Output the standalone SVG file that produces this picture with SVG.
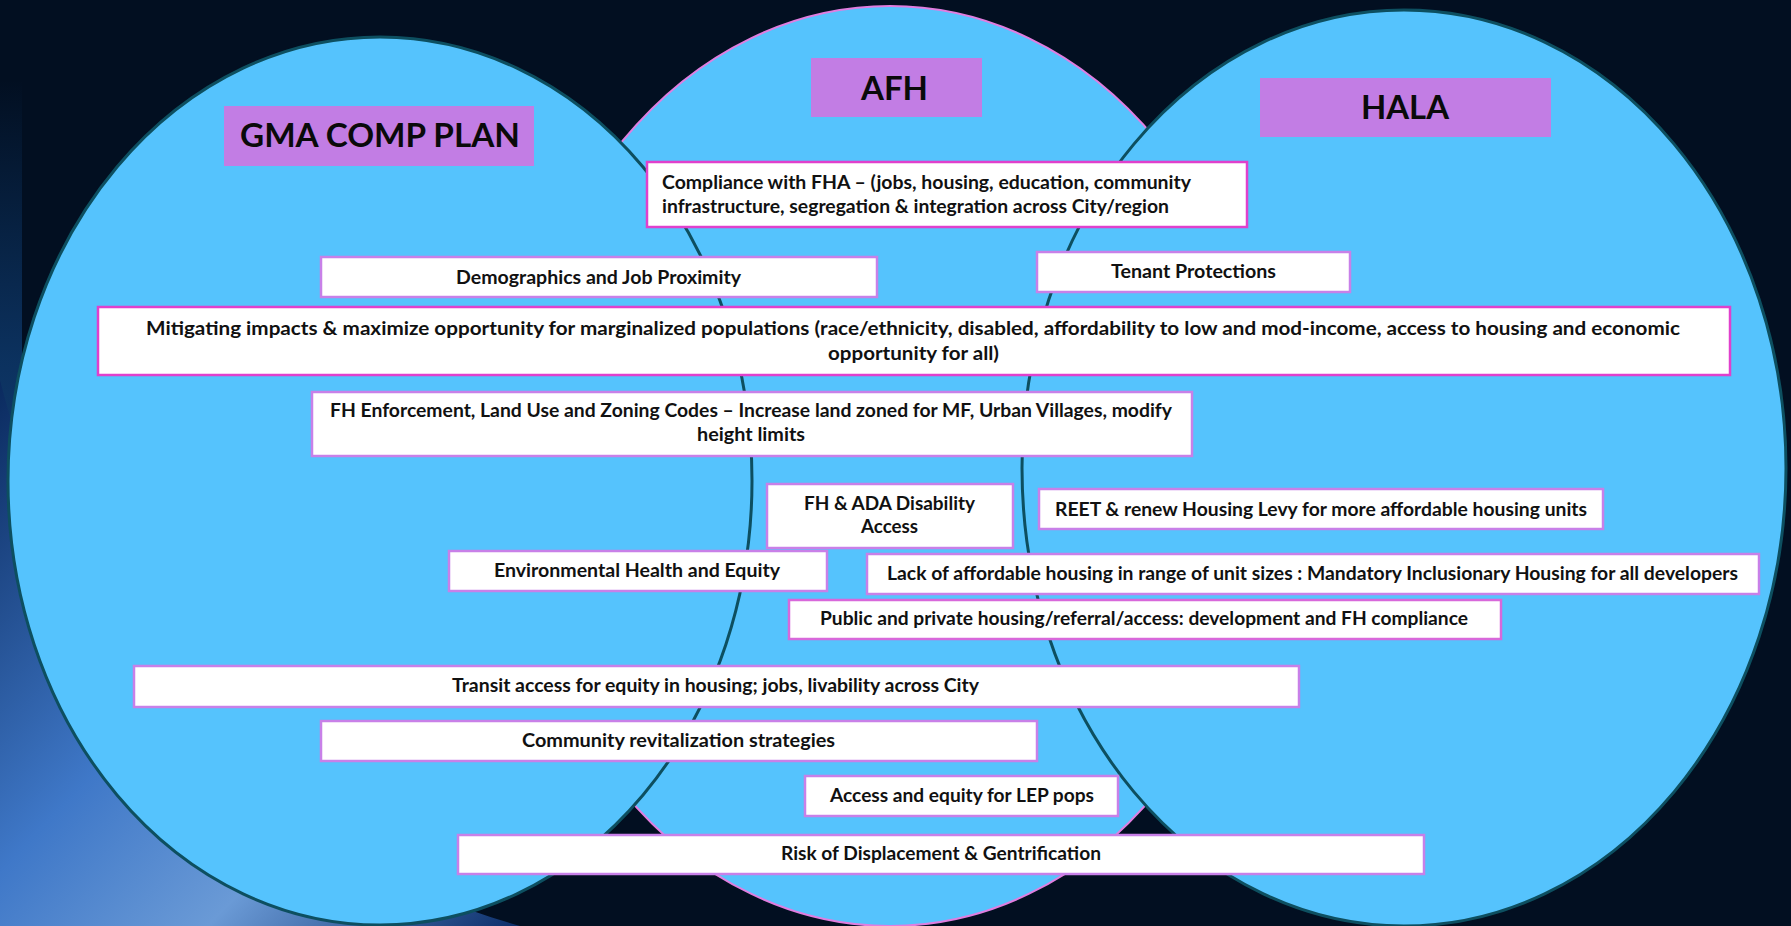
<svg xmlns="http://www.w3.org/2000/svg" width="1791" height="926" viewBox="0 0 1791 926">
<defs>
<style>
.ell{fill:#55C3FD;stroke:#0D4F60;stroke-width:3}
.ellp{fill:#55C3FD;stroke:#E07EE0;stroke-width:2}
.ttl{fill:#C27DE4}
.tt{font-family:Lato,"Liberation Sans",sans-serif;font-weight:700;font-size:32px;fill:#0A0A0A}
.bx{fill:#FFFFFF;stroke:#C880E8;stroke-width:2.5}
.bxm{fill:#FFFFFF;stroke:#E040CC;stroke-width:2.5}
.t{font-family:Lato,"Liberation Sans",sans-serif;font-weight:700;font-size:19.5px;fill:#111111}
</style>
<linearGradient id="sw" x1="0" y1="0" x2="1" y2="1">
<stop offset="0" stop-color="#0A2A5E"/>
<stop offset="0.45" stop-color="#3F78C8"/>
<stop offset="0.7" stop-color="#6A9AD6"/>
<stop offset="1" stop-color="#0C2E6A"/>
</linearGradient>
<linearGradient id="edge" x1="0" y1="0" x2="0" y2="1">
<stop offset="0" stop-color="#0E3A6E" stop-opacity="0"/>
<stop offset="0.5" stop-color="#0E3A6E" stop-opacity="0.8"/>
<stop offset="1" stop-color="#1A4A8A"/>
</linearGradient>
</defs>
<rect id="background" x="0" y="0" width="1791" height="926" fill="#020F21"/>
<rect x="0" y="80" width="22" height="560" fill="url(#edge)"/>
<path d="M0,380 C60,620 220,840 520,926 L0,926 Z" fill="url(#sw)"/>

<g id="afh">
<ellipse class="ellp" cx="890" cy="466" rx="378" ry="460"/>
</g>
<g id="gma">
<ellipse class="ell" cx="380" cy="481" rx="372" ry="444"/>
</g>
<g id="hala">
<ellipse class="ell" cx="1404" cy="468" rx="382" ry="458"/>
</g>

<g id="title-gma">
<rect class="ttl" x="224" y="106" width="310" height="60"/>
<text class="tt" x="240" y="147" textLength="280" lengthAdjust="spacingAndGlyphs">GMA COMP PLAN</text>
</g>
<g id="title-afh">
<rect class="ttl" x="811" y="58" width="171" height="59"/>
<text class="tt" x="861" y="100" textLength="67" lengthAdjust="spacingAndGlyphs">AFH</text>
</g>
<g id="title-hala">
<rect class="ttl" x="1260" y="78" width="291" height="59"/>
<text class="tt" x="1361" y="119" textLength="88" lengthAdjust="spacingAndGlyphs">HALA</text>
</g>

<g id="connectors"></g>

<g id="n-compliance">
<rect class="bxm" x="647" y="162" width="600" height="65"/>
<text class="t" x="662" y="189" textLength="529" lengthAdjust="spacingAndGlyphs">Compliance with FHA – (jobs, housing, education, community</text>
<text class="t" x="662" y="213" textLength="507" lengthAdjust="spacingAndGlyphs">infrastructure, segregation &amp; integration across City/region</text>
</g>
<g id="n-demographics">
<rect class="bx" x="321" y="257" width="556" height="40"/>
<text class="t" x="456" y="284" textLength="285" lengthAdjust="spacingAndGlyphs">Demographics and Job Proximity</text>
</g>
<g id="n-tenant">
<rect class="bx" x="1037" y="252" width="313" height="40"/>
<text class="t" x="1111" y="278" textLength="165" lengthAdjust="spacingAndGlyphs">Tenant Protections</text>
</g>
<g id="n-mitigating">
<rect class="bxm" x="98" y="307" width="1632" height="68"/>
<text class="t" x="146" y="335" textLength="1534" lengthAdjust="spacingAndGlyphs">Mitigating impacts &amp; maximize opportunity for marginalized populations (race/ethnicity, disabled,  affordability to low and mod-income,  access to housing and economic</text>
<text class="t" x="828" y="360" textLength="171" lengthAdjust="spacingAndGlyphs">opportunity for all)</text>
</g>
<g id="n-fh-enforcement">
<rect class="bx" x="312" y="392" width="880" height="64"/>
<text class="t" x="330" y="417" textLength="842" lengthAdjust="spacingAndGlyphs">FH Enforcement, Land Use and Zoning Codes – Increase land zoned for MF, Urban Villages, modify</text>
<text class="t" x="697" y="441" textLength="108" lengthAdjust="spacingAndGlyphs">height limits</text>
</g>
<g id="n-ada">
<rect class="bx" x="767" y="484" width="246" height="64"/>
<text class="t" x="804" y="510" textLength="171" lengthAdjust="spacingAndGlyphs">FH &amp; ADA Disability</text>
<text class="t" x="861" y="533" textLength="57" lengthAdjust="spacingAndGlyphs">Access</text>
</g>
<g id="n-reet">
<rect class="bx" x="1039" y="489" width="564" height="40"/>
<text class="t" x="1055" y="516" textLength="532" lengthAdjust="spacingAndGlyphs">REET &amp; renew Housing Levy for more affordable housing units</text>
</g>
<g id="n-environmental">
<rect class="bx" x="449" y="551" width="378" height="40"/>
<text class="t" x="494" y="577" textLength="286" lengthAdjust="spacingAndGlyphs">Environmental Health and Equity</text>
</g>
<g id="n-lack">
<rect class="bx" x="867" y="554" width="892" height="40"/>
<text class="t" x="887" y="580" textLength="851" lengthAdjust="spacingAndGlyphs">Lack of affordable housing in range of unit sizes : Mandatory Inclusionary Housing for all developers</text>
</g>
<g id="n-public">
<rect class="bx" x="789" y="600" width="712" height="39" style="stroke:#D868DA"/>
<text class="t" x="820" y="625" textLength="648" lengthAdjust="spacingAndGlyphs">Public and private housing/referral/access: development and FH compliance</text>
</g>
<g id="n-transit">
<rect class="bx" x="134" y="666" width="1165" height="41"/>
<text class="t" x="452" y="692" textLength="527" lengthAdjust="spacingAndGlyphs">Transit access for equity in housing; jobs, livability across City</text>
</g>
<g id="n-community">
<rect class="bx" x="321" y="721" width="716" height="40"/>
<text class="t" x="522" y="747" textLength="313" lengthAdjust="spacingAndGlyphs">Community revitalization  strategies</text>
</g>
<g id="n-lep">
<rect class="bx" x="805" y="776" width="313" height="40"/>
<text class="t" x="830" y="802" textLength="264" lengthAdjust="spacingAndGlyphs">Access and equity for LEP pops</text>
</g>
<g id="n-risk">
<rect class="bx" x="458" y="835" width="966" height="39"/>
<text class="t" x="781" y="860" textLength="320" lengthAdjust="spacingAndGlyphs">Risk of Displacement &amp; Gentrification</text>
</g>
</svg>
